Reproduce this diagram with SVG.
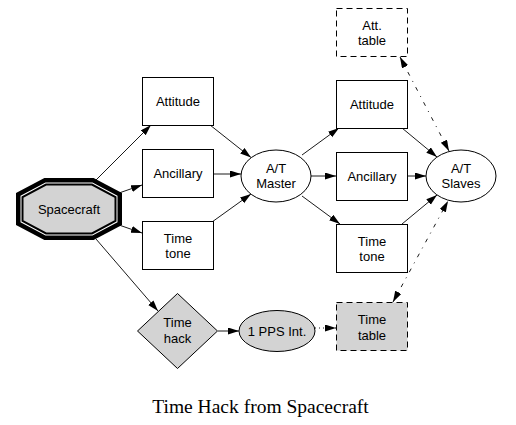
<svg xmlns="http://www.w3.org/2000/svg" width="516" height="425" viewBox="0 0 516 425">
<defs>
<marker id="ah" markerUnits="userSpaceOnUse" markerWidth="12" markerHeight="8" refX="11" refY="3.5" orient="auto">
<path d="M0,0 L11,3.5 L0,7 z" fill="#000"/>
</marker>
<marker id="ahs" markerUnits="userSpaceOnUse" markerWidth="12" markerHeight="8" refX="11" refY="3.5" orient="auto-start-reverse">
<path d="M0,0 L11,3.5 L0,7 z" fill="#000"/>
</marker>
<style>
.box{fill:#fff;stroke:#000;stroke-width:1}
.gray{fill:#d3d3d3;stroke:#000;stroke-width:1}
.dash{stroke-dasharray:6 4}
.t{font-family:"Liberation Sans",Arial,sans-serif;font-size:13px;fill:#000;text-anchor:middle}
.e{fill:none;stroke:#000;stroke-width:0.9;marker-end:url(#ah)}
.dd{fill:none;stroke:#000;stroke-width:0.9;stroke-dasharray:4 6 1 6;marker-end:url(#ah);marker-start:url(#ahs)}
.dot{fill:none;stroke:#000;stroke-width:0.9;stroke-dasharray:1 3;marker-end:url(#ah)}
</style>
</defs>
<rect width="516" height="425" fill="#fff"/>
<g id="connectors">
<line class="e" x1="96" y1="180" x2="151" y2="125"/>
<line class="e" x1="119" y1="193" x2="142" y2="185"/>
<line class="e" x1="119" y1="225" x2="142" y2="233"/>
<line class="e" x1="96" y1="239" x2="158" y2="311"/>
<line class="e" x1="210" y1="125" x2="251" y2="157.5"/>
<line class="e" x1="213" y1="174" x2="241" y2="174"/>
<line class="e" x1="212" y1="222" x2="251" y2="194"/>
<line class="e" x1="302" y1="155" x2="339" y2="128"/>
<line class="e" x1="311" y1="176" x2="336" y2="176"/>
<line class="e" x1="302" y1="196" x2="340" y2="224"/>
<line class="e" x1="402" y1="128" x2="437" y2="157"/>
<line class="e" x1="407" y1="176" x2="426" y2="176"/>
<line class="e" x1="402" y1="224" x2="437" y2="195"/>
<line class="dd" x1="400" y1="57" x2="449" y2="151"/>
<line class="dd" x1="393" y1="302" x2="448" y2="201"/>
<line class="e" x1="218" y1="331" x2="239" y2="331"/>
<line class="dot" x1="315" y1="328" x2="336" y2="328"/>
</g>
<g id="spacecraft">
<polygon points="46,184.5 92,184.5 115.5,197 115.5,221 92,233.5 46,233.5 22.5,221 22.5,197" fill="none" stroke="#000" stroke-width="13"/>
<polygon points="46,184.5 92,184.5 115.5,197 115.5,221 92,233.5 46,233.5 22.5,221 22.5,197" fill="none" stroke="#fff" stroke-width="4"/>
<polygon points="46,184.5 92,184.5 115.5,197 115.5,221 92,233.5 46,233.5 22.5,221 22.5,197" fill="#d3d3d3" stroke="#000" stroke-width="2"/>
<text class="t" x="69" y="214">Spacecraft</text>
</g>
<g id="attitude1">
<rect class="box" x="142.5" y="77.5" width="71" height="48"/>
<text class="t" x="178" y="106">Attitude</text>
</g>
<g id="ancillary1">
<rect class="box" x="142.5" y="149.5" width="71" height="48"/>
<text class="t" x="178" y="178">Ancillary</text>
</g>
<g id="timetone1">
<rect class="box" x="142.5" y="221.5" width="71" height="48"/>
<text class="t" x="178" y="243">Time</text>
<text class="t" x="178" y="258">tone</text>
</g>
<g id="master">
<ellipse class="box" cx="276" cy="176" rx="35" ry="26"/>
<text class="t" x="276" y="173">A/T</text>
<text class="t" x="276" y="188">Master</text>
</g>
<g id="atttable">
<rect class="box dash" x="336.5" y="8.5" width="71" height="48"/>
<text class="t" x="372" y="30">Att.</text>
<text class="t" x="372" y="45">table</text>
</g>
<g id="attitude2">
<rect class="box" x="336.5" y="80.5" width="71" height="48"/>
<text class="t" x="372" y="109">Attitude</text>
</g>
<g id="ancillary2">
<rect class="box" x="336.5" y="152.5" width="71" height="48"/>
<text class="t" x="372" y="181">Ancillary</text>
</g>
<g id="timetone2">
<rect class="box" x="336.5" y="224.5" width="71" height="48"/>
<text class="t" x="372" y="246">Time</text>
<text class="t" x="372" y="261">tone</text>
</g>
<g id="slaves">
<ellipse class="box" cx="461" cy="176" rx="35" ry="26"/>
<text class="t" x="461" y="173">A/T</text>
<text class="t" x="461" y="188">Slaves</text>
</g>
<g id="timehack">
<polygon class="gray" points="177.5,293.5 217.5,331 177.5,368.5 137.5,331"/>
<text class="t" x="177.5" y="327">Time</text>
<text class="t" x="177.5" y="343">hack</text>
</g>
<g id="pps">
<ellipse class="gray" cx="277" cy="331" rx="38" ry="20.5"/>
<text class="t" x="277" y="335.5">1 PPS Int.</text>
</g>
<g id="timetable">
<rect class="gray dash" x="336.5" y="302.5" width="71" height="48"/>
<text class="t" x="372" y="323.5">Time</text>
<text class="t" x="372" y="339.5">table</text>
</g>
<text x="260.5" y="413" font-family="'Liberation Serif','Times New Roman',serif" font-size="19.5" text-anchor="middle" fill="#000">Time Hack from Spacecraft</text>
</svg>
